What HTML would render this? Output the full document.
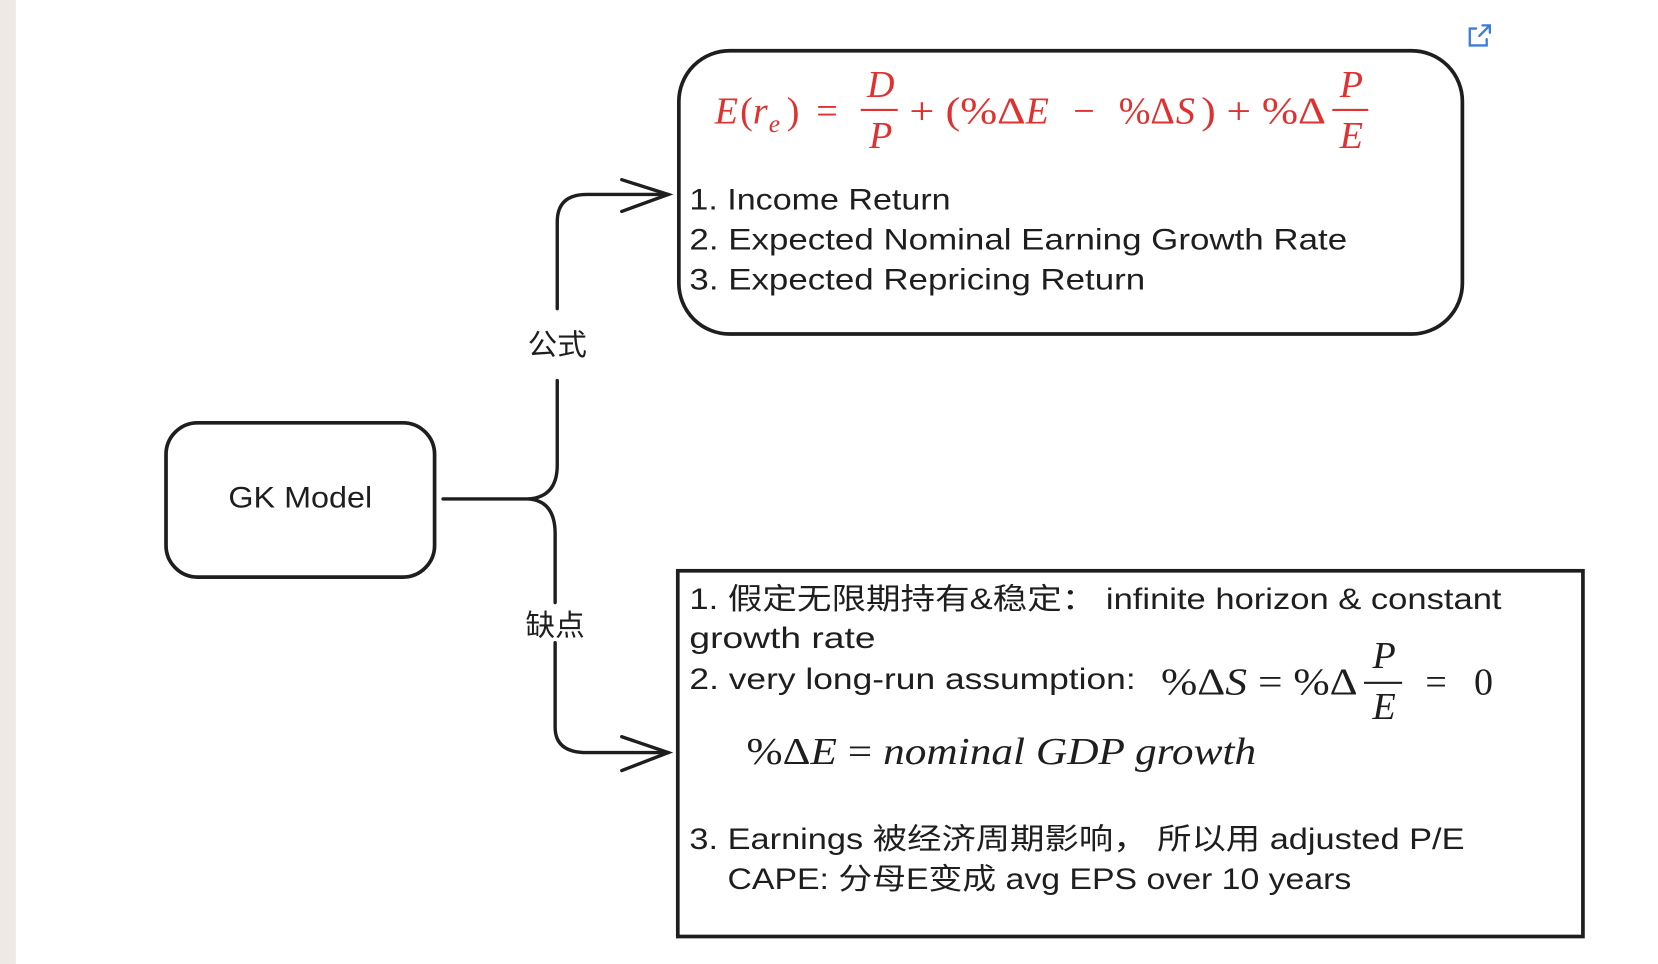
<!DOCTYPE html>
<html><head><meta charset="utf-8"><style>
html,body{margin:0;padding:0;background:#fff;}
svg{display:block;}
.h{font-family:"Liberation Sans","Noto Sans CJK SC",sans-serif;font-size:28px;fill:#1e1e1e;}
.m{font-family:"Liberation Serif",serif;font-size:36px;}
.r{fill:#e03131;}
.k{fill:#1e1e1e;}
</style></head><body>
<svg width="1658" height="964" viewBox="0 0 1568 912" preserveAspectRatio="none" xmlns="http://www.w3.org/2000/svg">
<rect x="0" y="0" width="15" height="912" fill="#efe9e6"/>
<g stroke="#3b7dd8" stroke-width="2.2" fill="none" stroke-linecap="round">
<path d="M1396 27 h-6 v16 h16 v-6"/><path d="M1399 34 l10 -10 M1402 24 h7 v7"/>
</g>
<rect x="642" y="48" width="741" height="268" rx="48" fill="none" stroke="#1e1e1e" stroke-width="3.5"/>
<rect x="157" y="400" width="254" height="146" rx="30" fill="none" stroke="#1e1e1e" stroke-width="3.5"/>
<text class="h" x="216" y="480" textLength="136" lengthAdjust="spacingAndGlyphs">GK Model</text>
<rect x="641" y="540" width="856" height="346" fill="none" stroke="#1e1e1e" stroke-width="3.5"/>
<g stroke="#1e1e1e" stroke-width="3.2" fill="none" stroke-linecap="round">
<path d="M419 472 H500 Q527 470 527 440 V360"/>
<path d="M527 292 V210 Q527 184 555 184 H632"/>
<path d="M588 170 L632 184 L588 200"/>
<path d="M500 472 Q525 474 525 505 V570"/>
<path d="M525 608 V688 Q525 712 555 712 H632"/>
<path d="M588 697 L632 712 L588 729"/>
</g>
<text class="h" x="527" y="336" text-anchor="middle" font-size="28">公式</text>
<text class="h" x="525" y="601" text-anchor="middle" font-size="28">缺点</text>
<g class="m r" font-style="italic">
<text x="676" y="117">E</text>
<text x="700" y="117" font-style="normal">(</text>
<text x="712" y="117">r</text>
<text x="727" y="125" font-size="24">e</text>
<text x="744" y="117" font-style="normal">)</text>
<text x="772" y="117" font-style="normal">=</text>
<text x="833" y="92" text-anchor="middle">D</text>
<rect x="814" y="103" width="35" height="2" fill="#e03131"/>
<text x="833" y="140" text-anchor="middle">P</text>
<text x="860" y="117" font-style="normal" textLength="110" lengthAdjust="spacingAndGlyphs">+ (%Δ</text>
<text x="970" y="117">E</text>
<text x="1015" y="117" font-style="normal">−</text>
<text x="1058" y="117" font-style="normal">%Δ</text>
<text x="1112" y="117">S</text>
<text x="1136" y="117" font-style="normal" textLength="118" lengthAdjust="spacingAndGlyphs">) + %Δ</text>
<text x="1278" y="92" text-anchor="middle">P</text>
<rect x="1260" y="103" width="34" height="2" fill="#e03131"/>
<text x="1278" y="140" text-anchor="middle">E</text>
</g>
<text class="h" x="652" y="198" textLength="247" lengthAdjust="spacingAndGlyphs">1. Income Return</text>
<text class="h" x="652" y="236" textLength="622" lengthAdjust="spacingAndGlyphs">2. Expected Nominal Earning Growth Rate</text>
<text class="h" x="652" y="274" textLength="431" lengthAdjust="spacingAndGlyphs">3. Expected Repricing Return</text>
<text class="h" x="652" y="576" textLength="768" lengthAdjust="spacingAndGlyphs">1. 假定无限期持有&amp;稳定：  infinite horizon &amp; constant</text>
<text class="h" x="652" y="613" textLength="176" lengthAdjust="spacingAndGlyphs">growth rate</text>
<text class="h" x="652" y="652" textLength="422" lengthAdjust="spacingAndGlyphs">2.  very long-run assumption:</text>
<g class="m k">
<text x="1098" y="657" textLength="186" lengthAdjust="spacingAndGlyphs">%Δ<tspan font-style="italic">S</tspan> = %Δ</text>
<text x="1309" y="632" text-anchor="middle" font-style="italic">P</text>
<rect x="1290" y="645" width="36" height="2" fill="#1e1e1e"/>
<text x="1309" y="680" text-anchor="middle" font-style="italic">E</text>
<text x="1348" y="657">=</text>
<text x="1394" y="657">0</text>
<text x="706" y="723" textLength="482" lengthAdjust="spacingAndGlyphs">%Δ<tspan font-style="italic">E</tspan> =  <tspan font-style="italic">nominal GDP growth</tspan></text>
</g>
<text class="h" x="652" y="803" textLength="733" lengthAdjust="spacingAndGlyphs">3. Earnings 被经济周期影响，  所以用 adjusted P/E</text>
<text class="h" x="688" y="841" textLength="590" lengthAdjust="spacingAndGlyphs">CAPE: 分母E变成 avg EPS over 10 years</text>
</svg>
</body></html>
